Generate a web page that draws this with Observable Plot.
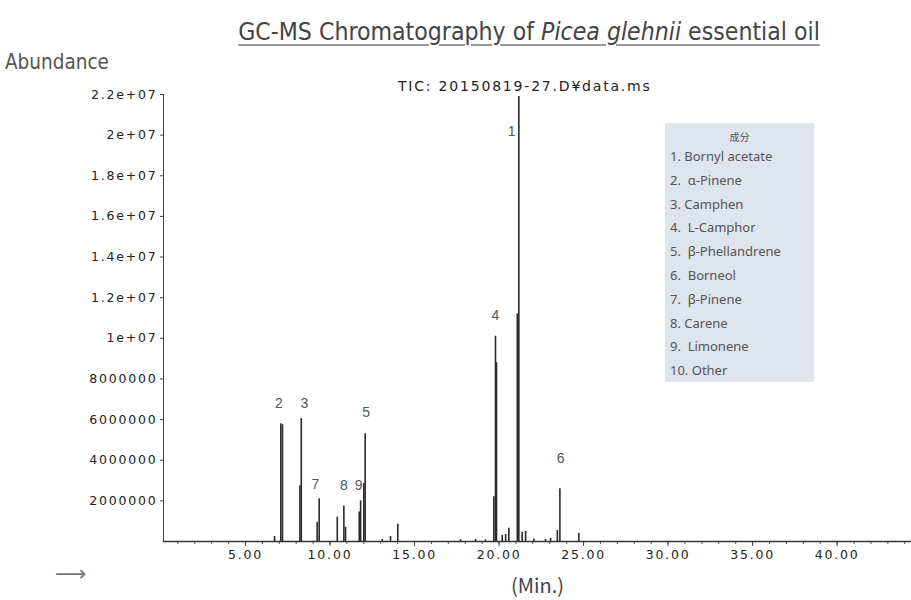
<!DOCTYPE html>
<html>
<head>
<meta charset="utf-8">
<script src="https://cdn.jsdelivr.net/npm/d3@7"></script>
<script src="https://cdn.jsdelivr.net/npm/@observablehq/plot@0.6"></script>
<style>
  body { margin: 0; background: #fff; }
  #wrap { position: relative; width: 911px; height: 600px; overflow: hidden; font-family: "Liberation Sans", sans-serif; }
  #head { position: relative; height: 70px; }
  #title { position: absolute; left: 0; width: 1058px; top: 17px; text-align: center; white-space: nowrap;
           font-family: "Liberation Sans Narrow", "DejaVu Sans Condensed", "Roboto Condensed", "Liberation Sans", sans-serif;
           font-size: 24.6px; color: #444; text-decoration: underline; text-decoration-color: #999; text-decoration-thickness: 2px; text-underline-offset: 4px; }
  #abund { position: absolute; left: 5px; top: 50px; white-space: nowrap;
           font-family: "Liberation Sans Narrow", "DejaVu Sans Condensed", "Roboto Condensed", "Liberation Sans", sans-serif;
           font-size: 20.5px; color: #555; }
  #tic { position: absolute; left: 398px; top: 78px; white-space: nowrap; font-family: "DejaVu Sans", sans-serif;
         font-size: 14px; letter-spacing: 1.8px; color: #222; }
  #arrow { position: absolute; left: 55px; top: 561px; font-family: "DejaVu Sans", sans-serif; font-size: 22px; color: #777; }
  #legend { position: absolute; left: 665px; top: 123px; width: 149px; height: 259px; background: #dee3ec;
            font-family: "Noto Sans", "Noto Sans CJK JP", sans-serif; color: #555; font-size: 13px; }
  #legend .hd { text-align: center; font-family: "Noto Sans CJK JP", sans-serif; font-size: 10px; margin-top: 6px; height: 16px; }
  #legend .it { white-space: pre; padding-left: 5px; height: 23.8px; line-height: 23.8px; }
  #chart svg { display: block; }
</style>
</head>
<body>
<div id="wrap">
  <div id="head">
    <div id="title">GC-MS Chromatography of <i>Picea glehnii</i> essential oil</div>
    <div id="abund">Abundance</div>
  </div>
  <div id="chart"></div>
  <div id="tic">TIC: 20150819-27.D¥data.ms</div>
  <div id="arrow">⟶</div>
  <div id="legend"></div>
</div>
<script>
// Retention times (min) and abundances of the peaks
const peakTimes = [6.72, 7.09, 7.19, 8.22, 8.30, 9.24, 9.36, 10.43, 10.82, 10.92, 11.73, 11.81, 12.00, 12.08,
  13.09, 13.58, 14.01, 17.72, 18.61, 19.20, 19.69, 19.79, 19.85, 20.19, 20.39, 20.58, 21.08, 21.17,
  21.37, 21.57, 22.06, 22.75, 23.05, 23.45, 23.60, 24.72];
const peakValues = [250000, 5800000, 5750000, 2750000, 6050000, 950000, 2100000, 1200000, 1750000, 700000, 1450000, 2000000, 2850000, 5300000,
  100000, 250000, 850000, 80000, 100000, 80000, 2200000, 10100000, 8800000, 300000, 350000, 650000, 11200000, 21900000,
  450000, 500000, 120000, 100000, 150000, 550000, 2600000, 400000];

// Peak number annotations
const labelIds = ["1", "2", "3", "4", "5", "6", "7", "8", "9"];
const labelTimes = [20.74, 6.97, 8.49, 19.79, 12.14, 23.64, 9.14, 10.82, 11.70];
const labelValues = [20180000, 6790000, 6790000, 11100000, 6350000, 4080000, 2800000, 2760000, 2760000];

// Legend (compounds)
const legendTitle = "成分";
const compounds = ["1. Bornyl acetate", "2.  α-Pinene", "3. Camphen", "4.  L-Camphor", "5.  β-Phellandrene",
  "6.  Borneol", "7.  β-Pinene", "8. Carene", "9.  Limonene", "10. Other"];

// Axis ticks
const xMajorTicks = [5, 10, 15, 20, 25, 30, 35, 40];
const xMinorTicks = d3.range(1, 45, 1);
const yTicks = [2000000, 4000000, 6000000, 8000000, 10000000, 12000000, 14000000, 16000000, 18000000, 20000000, 22000000];
const xDomain = [0.15, 44.4];
const yDomain = [0, 22000000];

const peaks = peakTimes.map((t, i) => ({t, v: peakValues[i]}));
const labels = labelIds.map((id, i) => ({id, t: labelTimes[i], v: labelValues[i]}));

function yFmt(d) {
  if (d < 1e7) return String(d);
  const e = Math.floor(Math.log10(d));
  const m = +(d / Math.pow(10, e)).toFixed(2);
  return `${m}e+${String(e).padStart(2, "0")}`;
}

const chart = Plot.plot({
  width: 911,
  height: 530,
  marginTop: 24,
  marginBottom: 59,
  marginLeft: 163,
  marginRight: 0,
  style: {fontFamily: "DejaVu Sans, sans-serif", fontSize: "12.5px", color: "#222", background: "transparent"},
  x: {domain: xDomain},
  y: {domain: yDomain},
  marks: [
    Plot.axisX({ticks: xMinorTicks, tickSize: 3, text: null, label: null, stroke: "#555"}),
    Plot.axisX({ticks: xMajorTicks, tickSize: 5, tickPadding: 4, tickFormat: d => d.toFixed(2), label: "(Min.)",
      labelAnchor: "center", labelArrow: "none", labelOffset: 51, stroke: "#444", fill: "#222"}),
    Plot.axisY({ticks: yTicks, tickSize: 3, tickPadding: 3, tickFormat: yFmt, label: null, stroke: "#444", fill: "#222"}),
    Plot.frame({anchor: "left", stroke: "#444"}),
    Plot.frame({anchor: "bottom", stroke: "#333", strokeWidth: 1.3}),
    Plot.ruleX(peaks, {x: "t", y1: 0, y2: "v", stroke: "#2a2a2a", strokeWidth: 1.6}),
    Plot.text(labels, {x: "t", y: "v", text: "id", fontSize: 14, fill: "#555", fontFamily: "Liberation Sans, sans-serif"})
  ]
});
document.getElementById("chart").appendChild(chart);

// wide-looking tick labels like the original
chart.querySelectorAll("[aria-label='x-axis tick label'] text, [aria-label='y-axis tick label'] text").forEach(t => {
  t.setAttribute("letter-spacing", "1.8");
});
chart.querySelectorAll("[aria-label='x-axis label'] text").forEach(xl => {
  xl.setAttribute("font-family", "Noto Sans CJK JP, sans-serif");
  xl.setAttribute("font-size", "20");
  xl.setAttribute("fill", "#444");
});

const lg = document.getElementById("legend");
const hd = document.createElement("div"); hd.className = "hd"; hd.textContent = legendTitle; lg.appendChild(hd);
compounds.forEach(c => { const d = document.createElement("div"); d.className = "it"; d.textContent = c; lg.appendChild(d); });
</script>
</body>
</html>
